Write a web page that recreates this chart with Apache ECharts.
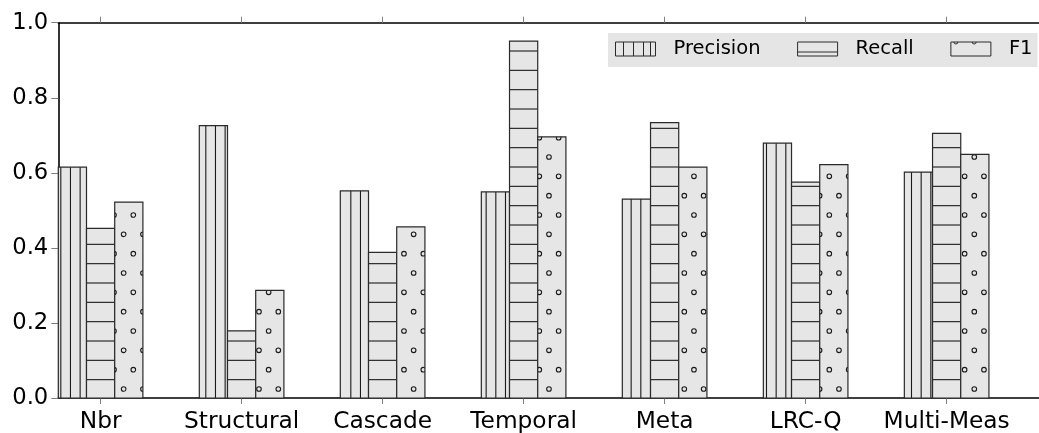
<!DOCTYPE html>
<html>
<head>
<meta charset="utf-8">
<script src="https://cdn.jsdelivr.net/npm/echarts@6/dist/echarts.min.js"></script>
<style>
  html, body { margin: 0; padding: 0; background: #fff; }
  #chart { width: 1039px; height: 433px; }
</style>
</head>
<body>
<div id="chart"></div>
<script>
// Detection methods and their scores
const categories = ['Nbr', 'Structural', 'Cascade', 'Temporal', 'Meta', 'LRC-Q', 'Multi-Meas'];
const precision = [0.615, 0.726, 0.552, 0.549, 0.530, 0.679, 0.602];
const recall    = [0.452, 0.179, 0.388, 0.951, 0.734, 0.575, 0.705];
const f1        = [0.522, 0.287, 0.456, 0.696, 0.615, 0.622, 0.649];
const yTicks    = [0, 0.2, 0.4, 0.6, 0.8, 1.0];

const FILL = '#e6e6e6';
const EDGE = '#2a2a2a';
const HATCH = '#1a1a1a';
const FONT = 'DejaVu Sans';

// hatch geometry, in canvas pixels (anchored to the canvas, like a tiled pattern)
const H_STEP = 19.333;         // horizontal-line spacing
const H_ORIGIN = 399.0;
const V_STEP = 9.667;          // vertical-line spacing
const V_ORIGIN = 2.8;
const C_STEP = 19.333;         // small-circle lattice
const C_X0 = 539.3, C_Y0 = 215.0, C_R = 2.3;

function hatchChildren(kind, x, y, w, h) {
  const out = [];
  const lineStyle = { stroke: HATCH, lineWidth: 1.1 };
  if (kind === 'v') {
    let k = Math.ceil((x - V_ORIGIN) / V_STEP);
    for (let px = V_ORIGIN + k * V_STEP; px < x + w; px += V_STEP) {
      if (px - x < 1 || x + w - px < 1) continue;
      out.push({ type: 'line', shape: { x1: px, y1: y, x2: px, y2: y + h }, style: lineStyle, silent: true });
    }
  } else if (kind === 'h') {
    let k = Math.ceil((H_ORIGIN - (y + h)) / H_STEP);
    for (let py = H_ORIGIN - k * H_STEP; py > y; py -= H_STEP) {
      if (py - y < 1 || y + h - py < 1) continue;
      out.push({ type: 'line', shape: { x1: x, y1: py, x2: x + w, y2: py }, style: lineStyle, silent: true });
    }
  } else {
    const circles = [];
    const rMin = Math.floor((y - C_Y0) / C_STEP) - 1;
    const rMax = Math.ceil((y + h - C_Y0) / C_STEP) + 1;
    for (let r = rMin; r <= rMax; r++) {
      const cy = C_Y0 + r * C_STEP;
      if (cy < y - C_R || cy > y + h + C_R) continue;
      const shift = (Math.abs(r) % 2) * (C_STEP / 2);
      const i0 = Math.floor((x - C_X0 - shift) / C_STEP) - 1;
      const i1 = Math.ceil((x + w - C_X0 - shift) / C_STEP) + 1;
      for (let i = i0; i <= i1; i++) {
        const cx = C_X0 + shift + i * C_STEP;
        if (cx < x - C_R || cx > x + w + C_R) continue;
        circles.push({ type: 'circle', shape: { cx: cx, cy: cy, r: C_R },
          style: { fill: null, stroke: HATCH, lineWidth: 1.1 }, silent: true });
      }
    }
    out.push({ type: 'group', children: circles,
      clipPath: { type: 'rect', shape: { x: x, y: y, width: w, height: h } } });
  }
  return out;
}

function barRenderer(slot, kind) {
  return function (params, api) {
    const cat = api.value(0);
    const val = api.value(1);
    const left = cat - 0.3 + 0.2 * slot;
    const p0 = api.coord([left, val]);
    const p1 = api.coord([left + 0.2, 0]);
    const x = p0[0], y = p0[1], w = p1[0] - p0[0], h = p1[1] - p0[1];
    const children = [
      { type: 'rect', shape: { x: x, y: y, width: w, height: h }, style: { fill: FILL } }
    ].concat(hatchChildren(kind, x, y, w, h));
    children.push({ type: 'rect', shape: { x: x, y: y, width: w, height: h },
      style: { fill: null, stroke: EDGE, lineWidth: 1.2 }, silent: true });
    return { type: 'group', children: children };
  };
}

function seriesData(values) {
  return values.map((v, i) => [i, v]);
}

// legend swatches: outline plus a sample of each hatch
const ICON_P = 'path://M0 0H40V14H0Z M8 0V14 M18 0V14 M28 0V14 M35 0V14';
const ICON_R = 'path://M0 0H40V14H0Z M0 10H40';
const ICON_F = 'path://M0 0H40V14H0Z M3 0A2 2 0 0 0 7 0 M21.3 0A2 2 0 0 0 25.3 0';

const xTickValues = categories.map((c, i) => i);

const option = {
  animation: false,
  backgroundColor: '#ffffff',
  grid: { left: 58.3, right: 0, top: 22.7, bottom: 34.3, containLabel: false },
  xAxis: [
    {
      type: 'value', position: 'bottom', min: -0.3, max: 6.655,
      axisLine: { show: true, onZero: false, lineStyle: { color: '#000', width: 1.6 } },
      axisTick: { show: true, inside: false, length: 6, customValues: xTickValues,
        lineStyle: { color: '#808080', width: 1 } },
      axisLabel: { show: true, customValues: xTickValues, margin: 12,
        formatter: v => categories[Math.round(v)] || '',
        color: '#000', fontFamily: FONT, fontSize: 23.3 },
      splitLine: { show: false }
    },
    {
      type: 'value', position: 'top', min: -0.3, max: 6.655,
      axisLine: { show: true, onZero: false, lineStyle: { color: '#000', width: 1.6 } },
      axisTick: { show: true, inside: false, length: 6, customValues: xTickValues,
        lineStyle: { color: '#808080', width: 1 } },
      axisLabel: { show: false },
      splitLine: { show: false }
    }
  ],
  yAxis: {
    type: 'value', min: 0, max: 1, interval: 0.2,
    axisLine: { show: true, onZero: false, lineStyle: { color: '#000', width: 1.6 } },
    axisTick: { show: true, inside: false, length: 7, lineStyle: { color: '#808080', width: 1 } },
    axisLabel: { margin: 10, color: '#000', fontFamily: FONT, fontSize: 22.7,
      customValues: yTicks, formatter: v => v.toFixed(1) },
    splitLine: { show: false }
  },
  legend: {
    left: 608, top: 33,
    padding: [6, 5, 8, 7],
    backgroundColor: '#e5e5e5',
    borderWidth: 0,
    itemWidth: 40, itemHeight: 14, itemGap: 36.6,
    symbolKeepAspect: false,
    selectedMode: false,
    itemStyle: { color: FILL, borderColor: EDGE, borderWidth: 1 },
    textStyle: { color: '#000', fontFamily: FONT, fontSize: 19.5, lineHeight: 14,
      padding: [0, 0, 0, 13] },
    data: [
      { name: 'Precision', icon: ICON_P },
      { name: 'Recall', icon: ICON_R },
      { name: 'F1', icon: ICON_F }
    ]
  },
  series: [
    { name: 'Precision', type: 'custom', renderItem: barRenderer(0, 'v'), data: seriesData(precision),
      encode: { x: 0, y: 1 }, itemStyle: { color: FILL, borderColor: EDGE, borderWidth: 1 } },
    { name: 'Recall', type: 'custom', renderItem: barRenderer(1, 'h'), data: seriesData(recall),
      encode: { x: 0, y: 1 }, itemStyle: { color: FILL, borderColor: EDGE, borderWidth: 1 } },
    { name: 'F1', type: 'custom', renderItem: barRenderer(2, 'o'), data: seriesData(f1),
      encode: { x: 0, y: 1 }, itemStyle: { color: FILL, borderColor: EDGE, borderWidth: 1 } }
  ]
};

const chart = echarts.init(document.getElementById('chart'), null, { renderer: 'canvas' });
chart.setOption(option);
</script>
</body>
</html>
